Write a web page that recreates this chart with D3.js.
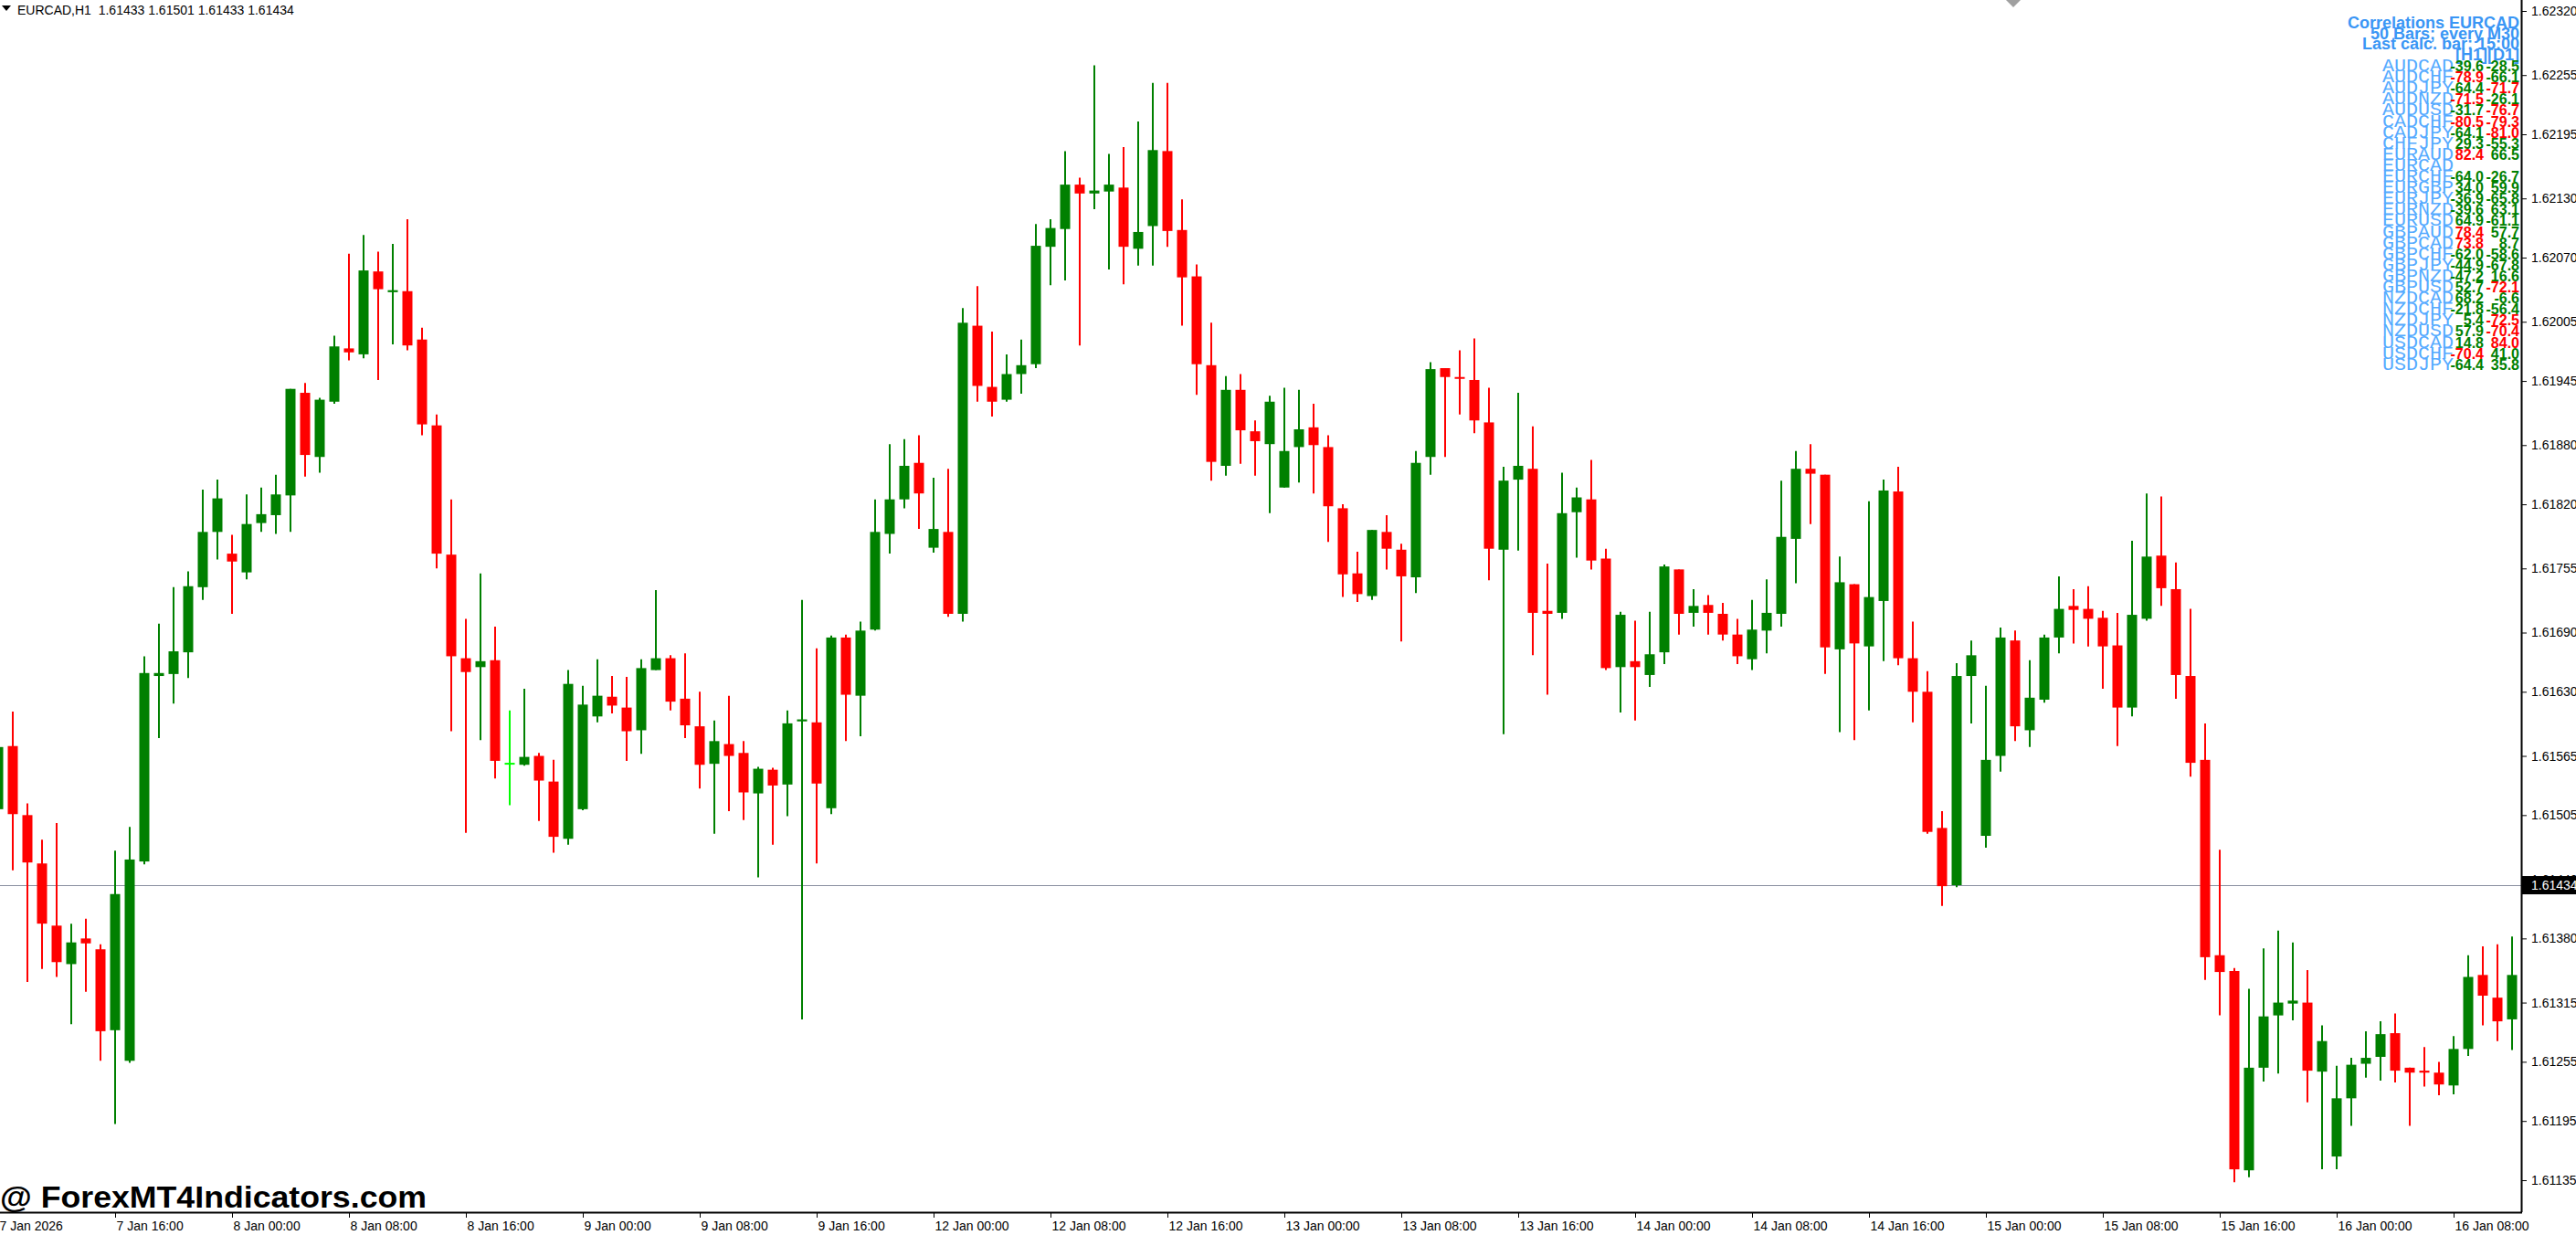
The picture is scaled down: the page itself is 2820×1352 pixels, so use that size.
<!DOCTYPE html>
<html>
<head>
<meta charset="utf-8">
<script src="https://cdn.jsdelivr.net/npm/d3@7"></script>
<style>
body { margin: 0; background: #fff; }
svg { display: block; }
</style>
</head>
<body>
<svg id="chart" width="2820" height="1352"></svg>
<script>

// hourly bars, 7 Jan 08:00 .. 16 Jan 12:00 (weekend skipped)
var opens = [
1.61511,1.61575,1.61505,1.61456,1.61393,1.61354,1.61380,1.61369,1.61287,1.61256,
1.61458,1.61646,1.61648,1.61670,1.61736,1.61792,1.61770,1.61751,1.61801,1.61809,
1.61829,1.61933,1.61868,1.61924,1.61978,1.61972,1.62056,1.62035,1.62036,1.61987,
1.61900,1.61769,1.61664,1.61655,1.61662,1.61558,1.61556,1.61565,1.61539,1.61481,
1.61511,1.61605,1.61625,1.61614,1.61591,1.61652,1.61664,1.61623,1.61595,1.61557,
1.61577,1.61568,1.61527,1.61551,1.61536,1.61600,1.61599,1.61512,1.61685,1.61626,
1.61693,1.61790,1.61825,1.61862,1.61776,1.61792,1.61709,1.62001,1.61939,1.61926,
1.61952,1.61962,1.62081,1.62099,1.62144,1.62135,1.62137,1.62141,1.62079,1.62102,
1.62178,1.62098,1.62051,1.61961,1.61859,1.61936,1.61894,1.61881,1.61837,1.61878,
1.61898,1.61878,1.61816,1.61750,1.61727,1.61792,1.61774,1.61746,1.61868,1.61958,
1.61949,1.61946,1.61903,1.61774,1.61845,1.61856,1.61712,1.61710,1.61812,1.61825,
1.61765,1.61655,1.61661,1.61647,1.61670,1.61754,1.61710,1.61718,1.61709,1.61688,
1.61663,1.61692,1.61709,1.61785,1.61856,1.61850,1.61673,1.61739,1.61676,1.61722,
1.61833,1.61664,1.61630,1.61492,1.61434,1.61646,1.61484,1.61565,1.61682,1.61591,
1.61622,1.61685,1.61717,1.61714,1.61705,1.61677,1.61614,1.61704,1.61768,1.61734,
1.61646,1.61561,1.61363,1.61347,1.61145,1.61249,1.61302,1.61314,1.61315,1.61245,
1.61159,1.61218,1.61253,1.61260,1.61284,1.61249,1.61246,1.61244,1.61231,1.61268,
1.61343,1.61320,1.61298
];
var highs = [
1.61590,1.61610,1.61517,1.61480,1.61497,1.61395,1.61400,1.61374,1.61469,1.61493,
1.61666,1.61699,1.61736,1.61752,1.61835,1.61845,1.61789,1.61830,1.61837,1.61850,
1.61937,1.61943,1.61928,1.61991,1.62074,1.62093,1.62076,1.62084,1.62109,1.61999,
1.61911,1.61825,1.61704,1.61750,1.61696,1.61611,1.61633,1.61568,1.61561,1.61652,
1.61636,1.61663,1.61646,1.61645,1.61663,1.61733,1.61667,1.61669,1.61630,1.61601,
1.61626,1.61580,1.61554,1.61553,1.61611,1.61723,1.61674,1.61687,1.61688,1.61701,
1.61825,1.61881,1.61886,1.61890,1.61847,1.61856,1.62019,1.62041,1.61995,1.61972,
1.61987,1.62104,1.62109,1.62178,1.62151,1.62265,1.62175,1.62182,1.62208,1.62247,
1.62247,1.62129,1.62063,1.62004,1.61950,1.61952,1.61905,1.61930,1.61938,1.61936,
1.61922,1.61890,1.61820,1.61772,1.61794,1.61809,1.61780,1.61874,1.61964,1.61958,
1.61976,1.61988,1.61938,1.61858,1.61933,1.61899,1.61760,1.61852,1.61837,1.61865,
1.61775,1.61711,1.61702,1.61711,1.61759,1.61754,1.61734,1.61728,1.61720,1.61704,
1.61723,1.61744,1.61844,1.61874,1.61881,1.61850,1.61767,1.61739,1.61823,1.61845,
1.61858,1.61701,1.61651,1.61509,1.61659,1.61682,1.61636,1.61695,1.61692,1.61662,
1.61688,1.61747,1.61734,1.61737,1.61712,1.61710,1.61783,1.61831,1.61828,1.61761,
1.61714,1.61598,1.61470,1.61350,1.61329,1.61370,1.61388,1.61376,1.61348,1.61292,
1.61251,1.61259,1.61286,1.61296,1.61304,1.61249,1.61270,1.61255,1.61281,1.61363,
1.61372,1.61374,1.61382
];
var lows = [
1.61490,1.61449,1.61336,1.61349,1.61341,1.61293,1.61326,1.61256,1.61192,1.61254,
1.61455,1.61583,1.61618,1.61644,1.61723,1.61764,1.61709,1.61744,1.61792,1.61790,
1.61792,1.61848,1.61852,1.61922,1.61966,1.61968,1.61946,1.61982,1.61976,1.61890,
1.61755,1.61590,1.61487,1.61581,1.61542,1.61515,1.61555,1.61499,1.61467,1.61475,
1.61510,1.61599,1.61608,1.61560,1.61567,1.61652,1.61611,1.61583,1.61532,1.61486,
1.61509,1.61500,1.61442,1.61475,1.61504,1.61298,1.61456,1.61506,1.61580,1.61585,
1.61692,1.61770,1.61816,1.61795,1.61771,1.61706,1.61701,1.61924,1.61909,1.61924,
1.61932,1.61958,1.62042,1.62047,1.61981,1.62119,1.62058,1.62043,1.62062,1.62062,
1.62081,1.62001,1.61931,1.61844,1.61849,1.61861,1.61849,1.61811,1.61837,1.61842,
1.61831,1.61782,1.61726,1.61721,1.61723,1.61754,1.61681,1.61730,1.61850,1.61868,
1.61911,1.61892,1.61743,1.61587,1.61773,1.61667,1.61627,1.61704,1.61766,1.61754,
1.61652,1.61609,1.61601,1.61635,1.61658,1.61688,1.61696,1.61688,1.61682,1.61658,
1.61652,1.61669,1.61696,1.61740,1.61800,1.61648,1.61589,1.61581,1.61611,1.61661,
1.61657,1.61599,1.61486,1.61413,1.61432,1.61598,1.61472,1.61549,1.61580,1.61574,
1.61619,1.61669,1.61679,1.61676,1.61633,1.61575,1.61605,1.61702,1.61717,1.61623,
1.61544,1.61338,1.61302,1.61133,1.61138,1.61235,1.61243,1.61297,1.61214,1.61146,
1.61146,1.61190,1.61239,1.61236,1.61234,1.61190,1.61230,1.61221,1.61222,1.61261,
1.61292,1.61276,1.61267
];
var closes = [
1.61574,1.61506,1.61457,1.61395,1.61356,1.61376,1.61375,1.61286,1.61425,1.61460,
1.61649,1.61649,1.61671,1.61737,1.61792,1.61826,1.61762,1.61800,1.61810,1.61830,
1.61937,1.61870,1.61926,1.61980,1.61974,1.62057,1.62038,1.62037,1.61981,1.61901,
1.61770,1.61666,1.61650,1.61661,1.61560,1.61558,1.61564,1.61540,1.61483,1.61638,
1.61617,1.61626,1.61616,1.61590,1.61654,1.61664,1.61620,1.61596,1.61556,1.61580,
1.61565,1.61528,1.61552,1.61535,1.61598,1.61602,1.61537,1.61685,1.61627,1.61692,
1.61792,1.61825,1.61859,1.61831,1.61795,1.61709,1.62004,1.61940,1.61924,1.61952,
1.61961,1.62082,1.62100,1.62144,1.62135,1.62138,1.62144,1.62081,1.62096,1.62179,
1.62097,1.62050,1.61962,1.61863,1.61936,1.61895,1.61884,1.61924,1.61874,1.61896,
1.61880,1.61818,1.61749,1.61729,1.61794,1.61775,1.61747,1.61862,1.61957,1.61949,
1.61948,1.61905,1.61775,1.61844,1.61859,1.61710,1.61709,1.61811,1.61827,1.61763,
1.61654,1.61708,1.61655,1.61668,1.61757,1.61709,1.61717,1.61710,1.61688,1.61666,
1.61693,1.61710,1.61787,1.61856,1.61851,1.61675,1.61741,1.61679,1.61726,1.61834,
1.61664,1.61630,1.61488,1.61433,1.61646,1.61667,1.61561,1.61685,1.61595,1.61624,
1.61685,1.61714,1.61713,1.61704,1.61676,1.61614,1.61708,1.61767,1.61735,1.61647,
1.61558,1.61361,1.61346,1.61146,1.61249,1.61301,1.61315,1.61317,1.61246,1.61276,
1.61218,1.61252,1.61259,1.61283,1.61246,1.61244,1.61244,1.61232,1.61268,1.61341,
1.61322,1.61296,1.61343
];

var timeLabels = ['7 Jan 2026','7 Jan 16:00','8 Jan 00:00','8 Jan 08:00','8 Jan 16:00',
  '9 Jan 00:00','9 Jan 08:00','9 Jan 16:00','12 Jan 00:00','12 Jan 08:00','12 Jan 16:00',
  '13 Jan 00:00','13 Jan 08:00','13 Jan 16:00','14 Jan 00:00','14 Jan 08:00','14 Jan 16:00',
  '15 Jan 00:00','15 Jan 08:00','15 Jan 16:00','16 Jan 00:00','16 Jan 08:00'];
var priceTicks = [1.62320,1.62255,1.62195,1.62130,1.62070,1.62005,1.61945,1.61880,1.61820,
  1.61755,1.61690,1.61630,1.61565,1.61505,1.61440,1.61380,1.61315,1.61255,1.61195,1.61135];
var currentPrice = 1.61434;

var pairs = ['AUDCAD','AUDCHF','AUDJPY','AUDNZD','AUDUSD','CADCHF','CADJPY','CHFJPY','EURAUD',
  'EURCAD','EURCHF','EURGBP','EURJPY','EURNZD','EURUSD','GBPAUD','GBPCAD','GBPCHF','GBPJPY',
  'GBPNZD','GBPUSD','NZDCAD','NZDCHF','NZDJPY','NZDUSD','USDCAD','USDCHF','USDJPY'];
var corrH1 = [-39.6,-78.9,-64.4,-71.5,-31.7,-80.5,-64.1,29.3,82.4,null,-64.0,34.0,-36.9,-39.6,
  64.9,78.4,73.8,-62.0,-44.9,-47.2,52.7,68.2,-21.8,5.4,57.9,14.8,-70.4,-64.4];
var corrD1 = [-28.5,-66.1,-71.7,-26.1,-76.7,-79.3,-81.0,-55.3,66.5,null,-26.7,59.9,-65.8,63.1,
  -61.1,57.7,8.7,-58.6,-67.8,16.6,-72.1,-6.6,-56.4,-72.5,-70.4,84.0,41.0,35.8];
var headerLines = ['Correlations EURCAD','50 Bars; every M30','Last calc. bar: 15:00','[H1][D1]'];

var svg = d3.select('#chart');
var plotRight = 2760, plotBottom = 1327;
var font = '"Liberation Sans", Arial, sans-serif';

var x = d3.scaleLinear().domain([0, 172]).range([-2, 2750]);
var y = d3.scaleLinear().domain([1.62320, 1.61135]).range([12, 1292]);

var bars = d3.range(opens.length).map(function(i) {
    return { i: i, o: opens[i], h: highs[i], l: lows[i], c: closes[i] };
});
function barColor(d) {
    if (d.c > d.o) return '#008000';
    if (d.c < d.o) return '#ff0000';
    return '#00ff00';
}

var plot = svg.append('g');
plot.append('clipPath').attr('id', 'clip').append('rect')
    .attr('x', 0).attr('y', 0).attr('width', plotRight).attr('height', plotBottom);
var marks = plot.append('g').attr('clip-path', 'url(#clip)');

// current price line
marks.append('line')
    .attr('x1', 0).attr('x2', plotRight)
    .attr('y1', Math.round(y(currentPrice)) + 0.5).attr('y2', Math.round(y(currentPrice)) + 0.5)
    .attr('stroke', '#8a90a0').attr('stroke-width', 1);

var candle = marks.selectAll('g.candle').data(bars).enter().append('g').attr('class', 'candle');
candle.append('line')
    .attr('x1', function(d) { return x(d.i); })
    .attr('x2', function(d) { return x(d.i); })
    .attr('y1', function(d) { return y(d.h); })
    .attr('y2', function(d) { return y(d.l); })
    .attr('stroke', barColor).attr('stroke-width', 2);
candle.append('rect')
    .attr('x', function(d) { return x(d.i) - 5.5; })
    .attr('width', 11)
    .attr('y', function(d) { return y(Math.max(d.o, d.c)); })
    .attr('height', function(d) { return Math.max(2, Math.abs(y(d.o) - y(d.c))); })
    .attr('fill', barColor);

// right price axis
var yAxis = d3.axisRight(y).tickValues(priceTicks).tickFormat(d3.format('.5f')).tickSize(6).tickPadding(5);
var ya = svg.append('g').attr('transform', 'translate(' + plotRight + ',0)').call(yAxis);
ya.select('.domain').remove();
ya.selectAll('line').attr('stroke', '#000');
ya.selectAll('text').attr('font-family', font).attr('font-size', 14).attr('fill', '#000');
svg.append('line').attr('x1', plotRight + 0.5).attr('x2', plotRight + 0.5)
    .attr('y1', 0).attr('y2', plotBottom).attr('stroke', '#000').attr('stroke-width', 2);

// current price box
svg.append('rect').attr('x', plotRight + 1).attr('y', y(currentPrice) - 10)
    .attr('width', 60).attr('height', 20).attr('fill', '#000');
svg.append('text').attr('x', plotRight + 11).attr('y', y(currentPrice) + 5)
    .attr('font-family', font).attr('font-size', 14).attr('fill', '#fff')
    .text(d3.format('.5f')(currentPrice));

// bottom time axis
var tickIdx = timeLabels.map(function(t, k) { return k * 8; });
var xAxis = d3.axisBottom(x).tickValues(tickIdx)
    .tickFormat(function(d) { return timeLabels[d / 8]; }).tickSize(6).tickPadding(4);
var xa = svg.append('g').attr('transform', 'translate(0,' + plotBottom + ')').call(xAxis);
xa.select('.domain').remove();
xa.selectAll('line').attr('stroke', '#000');
xa.selectAll('text').attr('font-family', font).attr('font-size', 14).attr('fill', '#000')
    .attr('text-anchor', 'start').attr('dx', 1);
svg.append('line').attr('x1', 0).attr('x2', plotRight + 1)
    .attr('y1', plotBottom + 0.5).attr('y2', plotBottom + 0.5).attr('stroke', '#000').attr('stroke-width', 2);

// header
svg.append('path').attr('d', 'M2,6 L12,6 L7,12 Z').attr('fill', '#000');
svg.append('text').attr('x', 19).attr('y', 16).attr('font-family', font).attr('font-size', 14)
    .attr('xml:space', 'preserve')
    .text('EURCAD,H1  1.61433 1.61501 1.61433 1.61434');

// shift marker
svg.append('path').attr('d', 'M2196,0 L2212,0 L2204,8 Z').attr('fill', '#a0a0a0');

// correlation panel
var panelX = 2758;
headerLines.forEach(function(t, k) {
    svg.append('text').attr('x', panelX).attr('y', 31 + k * 11.5)
        .attr('text-anchor', 'end').attr('font-family', font).attr('font-weight', 'bold')
        .attr('font-size', 18).attr('fill', '#3a96f5').text(t);
});
pairs.forEach(function(p, k) {
    var by = 78 + k * 12.1;
    svg.append('text').attr('x', 2608).attr('y', by)
        .attr('font-family', '"Liberation Mono", "Courier New", monospace')
        .attr('font-size', 20).attr('fill', '#55aaff')
        .attr('textLength', 78).attr('lengthAdjust', 'spacingAndGlyphs')
        .text(p);
    [corrH1[k], corrD1[k]].forEach(function(v, j) {
        if (v === null) return;
        svg.append('text').attr('x', j === 0 ? 2719 : panelX).attr('y', by)
            .attr('text-anchor', 'end').attr('font-family', font).attr('font-weight', 'bold')
            .attr('font-size', 16).attr('fill', Math.abs(v) >= 70 ? '#ff0000' : '#008000')
            .text(v.toFixed(1));
    });
});

// watermark
svg.append('text').attr('x', 0).attr('y', 1322).attr('font-family', font)
    .attr('font-weight', 'bold').attr('font-size', 34).attr('fill', '#000')
    .attr('textLength', 467).attr('lengthAdjust', 'spacingAndGlyphs')
    .text('@ ForexMT4Indicators.com');

</script>
</body>
</html>
